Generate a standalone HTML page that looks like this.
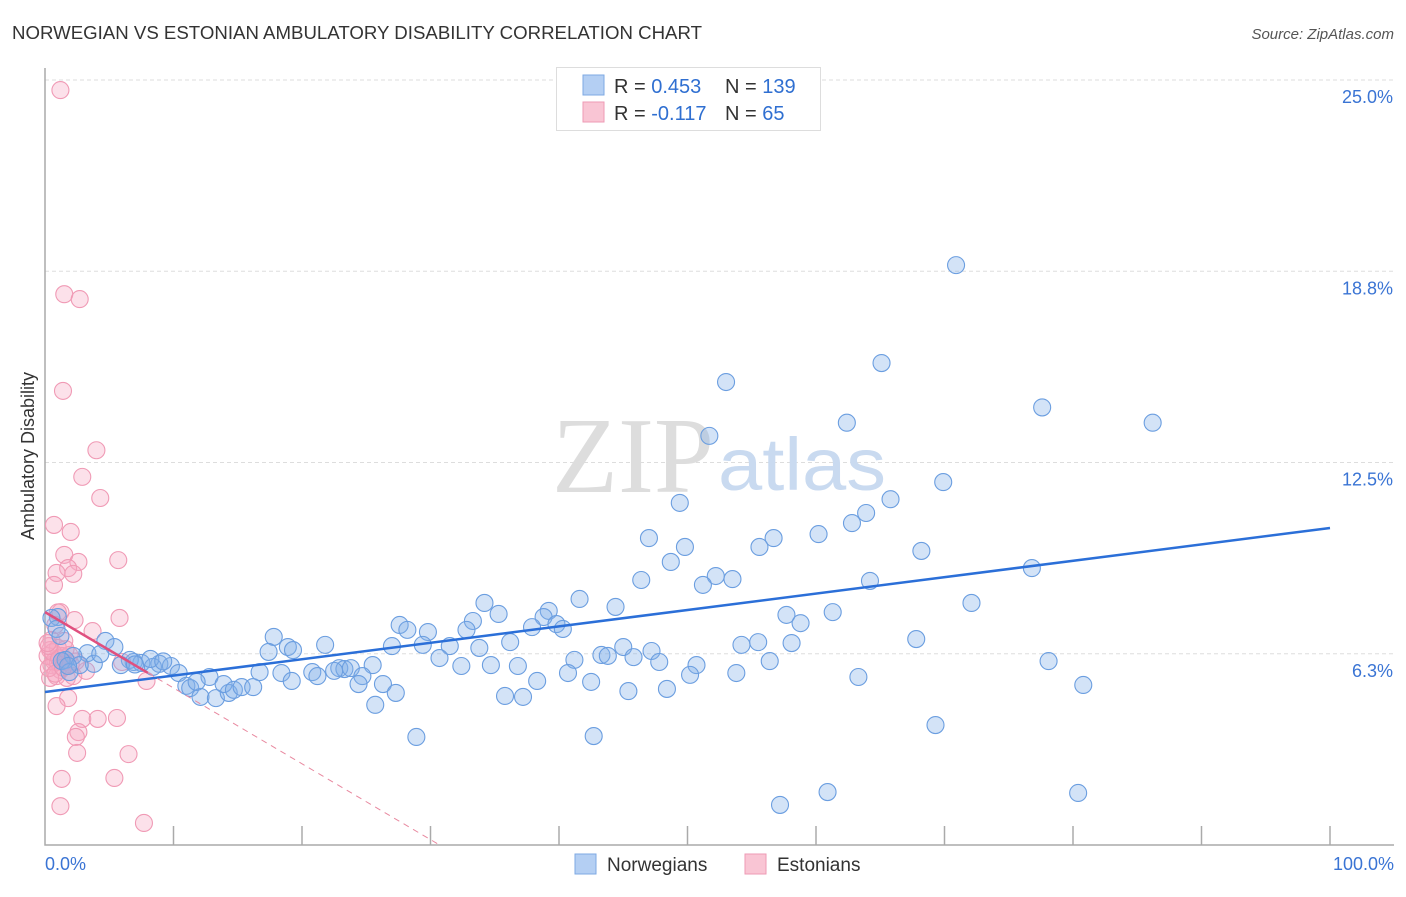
<!DOCTYPE html>
<html><head><meta charset="utf-8"><style>
body{margin:0;background:#fff;font-family:"Liberation Sans",sans-serif;}
svg text{font-family:"Liberation Sans",sans-serif;}
</style></head><body>
<svg id="chart" width="1406" height="892" viewBox="0 0 1406 892">
<text x="12" y="39" font-size="18" fill="#333" textLength="690" lengthAdjust="spacingAndGlyphs">NORWEGIAN VS ESTONIAN AMBULATORY DISABILITY CORRELATION CHART</text>
<text x="1394" y="39" font-size="15" fill="#555" text-anchor="end" font-style="italic">Source: ZipAtlas.com</text>
<g id="grid"></g>
<g id="axes"></g>
<text x="714" y="492" font-size="108" fill="#ddd" text-anchor="end" style="font-family:'Liberation Serif',serif">ZIP</text>
<text x="718" y="490" font-size="74" fill="#c9daf0" textLength="168" lengthAdjust="spacingAndGlyphs">atlas</text>
<g id="pts"></g>
<g id="lines"></g>
<text transform="translate(34,456) rotate(-90)" font-size="18" fill="#333" text-anchor="middle">Ambulatory Disability</text>
<g>
<rect x="556.5" y="67.5" width="264" height="63" fill="#fff" stroke="#ddd"/>
<rect x="583" y="75" width="21" height="20" fill="#b4cff3" stroke="#7ea9e3"/>
<rect x="583" y="102" width="21" height="20" fill="#f9c5d4" stroke="#ee9ab4"/>
<text x="614" y="93" font-size="20" fill="#333">R = <tspan fill="#2f6fd1">0.453</tspan></text>
<text x="725" y="93" font-size="20" fill="#333">N = <tspan fill="#2f6fd1">139</tspan></text>
<text x="614" y="120" font-size="20" fill="#333">R = <tspan fill="#2f6fd1">-0.117</tspan></text>
<text x="725" y="120" font-size="20" fill="#333">N = <tspan fill="#2f6fd1"> 65</tspan></text>
</g>
<g>
<rect x="575" y="854" width="21" height="20" fill="#b4cff3" stroke="#7ea9e3"/>
<text x="607" y="871" font-size="19" fill="#333">Norwegians</text>
<rect x="745" y="854" width="21" height="20" fill="#f9c5d4" stroke="#ee9ab4"/>
<text x="777" y="871" font-size="19" fill="#333">Estonians</text>
</g>
</svg>
<script>
const yTicks=[6.25,12.5,18.75,25];
const yTickLabels=["6.3%","12.5%","18.8%","25.0%"];
const xTicks=[0,10,20,30,40,50,60,70,80,90,100];
const blueX=[70.9,65.1,53.0,77.6,62.4,86.2,51.7,69.9,65.8,49.4,63.9,62.8,60.2,47.0,56.7,55.6,49.8,68.2,48.7,76.8,52.2,53.5,46.4,64.2,51.2,41.6,34.2,72.1,44.4,39.2,35.3,61.3,57.7,38.8,33.3,27.6,39.8,58.8,37.9,40.3,28.2,29.8,32.8,17.8,67.8,36.2,21.8,18.9,27.0,29.4,31.5,55.5,54.2,58.1,45.0,19.3,33.8,43.3,43.8,47.2,41.2,45.8,47.8,56.4,30.7,32.4,34.7,36.8,78.1,50.7,17.4,25.5,22.9,23.3,23.8,22.5,20.8,16.7,18.4,21.2,19.2,24.7,40.7,50.2,53.8,63.3,42.5,38.3,24.4,26.3,80.8,45.4,48.4,27.3,35.8,37.2,25.7,69.3,28.9,42.7,57.2,60.9,80.4,4.7,5.4,6.9,7.5,6.6,8.9,9.8,8.4,5.9,8.2,10.4,11.0,11.3,12.1,12.8,13.3,14.3,13.9,14.7,15.3,16.2,11.8,1.0,0.5,0.9,1.2,3.3,3.8,4.3,2.2,1.6,2.7,1.3,1.9,1.8,9.2,7.0];
const blueY=[18.95,15.75,15.13,14.3,13.8,13.8,13.37,11.86,11.3,11.18,10.85,10.52,10.16,10.03,10.03,9.74,9.74,9.61,9.25,9.05,8.79,8.69,8.66,8.63,8.5,8.04,7.91,7.91,7.78,7.65,7.55,7.61,7.52,7.45,7.32,7.19,7.22,7.25,7.12,7.06,7.03,6.96,7.03,6.8,6.73,6.63,6.54,6.47,6.5,6.54,6.5,6.63,6.54,6.6,6.47,6.37,6.44,6.21,6.18,6.34,6.05,6.14,5.98,6.01,6.11,5.85,5.88,5.85,6.01,5.88,6.31,5.88,5.78,5.75,5.78,5.69,5.65,5.65,5.62,5.52,5.36,5.52,5.62,5.56,5.62,5.49,5.33,5.36,5.26,5.26,5.23,5.03,5.1,4.97,4.87,4.84,4.58,3.92,3.53,3.56,1.31,1.73,1.7,6.67,6.47,5.98,5.95,6.05,5.92,5.85,5.82,5.88,6.08,5.62,5.2,5.13,4.84,5.49,4.8,4.97,5.26,5.07,5.16,5.16,5.33,7.45,7.42,7.06,6.83,6.27,5.92,6.24,6.18,6.05,5.88,6.01,5.65,5.85,6.0,5.9];
const pinkX=[1.2,1.5,2.7,1.4,4.0,2.9,4.3,0.7,2.0,1.5,2.6,5.7,1.8,0.9,2.2,0.7,1.2,5.8,2.3,0.8,3.7,1.5,0.5,1.0,0.4,1.3,0.8,1.9,0.5,1.2,1.5,0.4,0.9,1.7,2.2,3.2,0.7,0.2,1.0,0.3,6.0,7.9,1.8,0.9,2.9,4.1,5.6,2.6,2.4,2.5,6.5,1.3,5.4,1.2,7.7,0.6,1.1,2.0,0.3,1.6,0.8,2.4,1.4,0.2,1.0];
const pinkY=[24.67,18.0,17.84,14.84,12.9,12.03,11.34,10.46,10.23,9.48,9.25,9.31,9.05,8.89,8.86,8.5,7.61,7.42,7.35,7.19,6.99,6.67,6.7,6.44,6.37,6.18,6.05,6.21,5.88,5.72,5.98,5.46,5.52,5.46,5.52,5.69,6.01,6.18,5.98,5.78,5.98,5.36,4.8,4.54,4.12,4.12,4.15,3.69,3.53,3.01,2.97,2.16,2.19,1.27,0.72,6.3,6.1,5.9,6.5,6.4,5.6,6.0,5.8,6.6,7.6];
const blueTrend=[5.0,10.36];
const pinkTrend=[7.61,-0.2478];
const pinkSolidEnd=8,pinkDashEnd=30.7;
const X=v=>45+v*12.85, Y=v=>845-v*30.6;
const NS="http://www.w3.org/2000/svg";
function mk(t,a,p){const e=document.createElementNS(NS,t);for(const k in a)e.setAttribute(k,a[k]);p.appendChild(e);return e;}
const grid=document.getElementById('grid'),axes=document.getElementById('axes');
yTicks.forEach((t,i)=>{
 const l=mk('line',{x1:45,x2:1394,y1:Y(t),y2:Y(t),stroke:'#ddd','stroke-dasharray':'4,3'},grid);
 
 
 const tx=mk('text',{x:1393,y:Y(t)+23,'font-size':18,fill:'#3a74d4','text-anchor':'end'},axes);
 tx.textContent=yTickLabels[i];
 
 
});
const ax=mk('path',{d:'M45 68V845H1394',fill:'none',stroke:'#aaa','stroke-width':1.5},axes);


xTicks.forEach(t=>{if(t===0)return;
 const l=mk('line',{x1:X(t),x2:X(t),y1:826,y2:845,stroke:'#aaa','stroke-width':1.5},axes);
 
 
});
const x0=mk('text',{x:45,y:870,'font-size':18,fill:'#3a74d4'},axes);x0.textContent='0.0%';


const x1=mk('text',{x:1394,y:870,'font-size':18,fill:'#3a74d4','text-anchor':'end'},axes);x1.textContent='100.0%';


const pts=document.getElementById('pts');
pinkX.forEach((x,i)=>{const c=mk('circle',{cx:X(x),cy:Y(pinkY[i]),r:8.5,fill:'rgba(246,168,194,0.35)',stroke:'#f09ab5','stroke-width':1.1},pts);
 
 });
blueX.forEach((x,i)=>{const c=mk('circle',{cx:X(x),cy:Y(blueY[i]),r:8.5,fill:'rgba(130,175,232,0.35)',stroke:'#6b9ee0','stroke-width':1.1},pts);
 
 });
const lines=document.getElementById('lines');
const bl=mk('line',{x1:X(0),y1:Y(blueTrend[0]),x2:X(100),y2:Y(blueTrend[1]),stroke:'#2b6fd8','stroke-width':2.5},lines);


const pf=x=>pinkTrend[0]+pinkTrend[1]*x;
const ps=mk('line',{x1:X(0),y1:Y(pf(0)),x2:X(pinkSolidEnd),y2:Y(pf(pinkSolidEnd)),stroke:'#e0507f','stroke-width':2.5},lines);


const pd=mk('line',{x1:X(pinkSolidEnd),y1:Y(pf(pinkSolidEnd)),x2:X(pinkDashEnd),y2:Y(pf(pinkDashEnd)),stroke:'#e8889f','stroke-width':1,'stroke-dasharray':'6,5'},lines);


</script>
</body></html>
